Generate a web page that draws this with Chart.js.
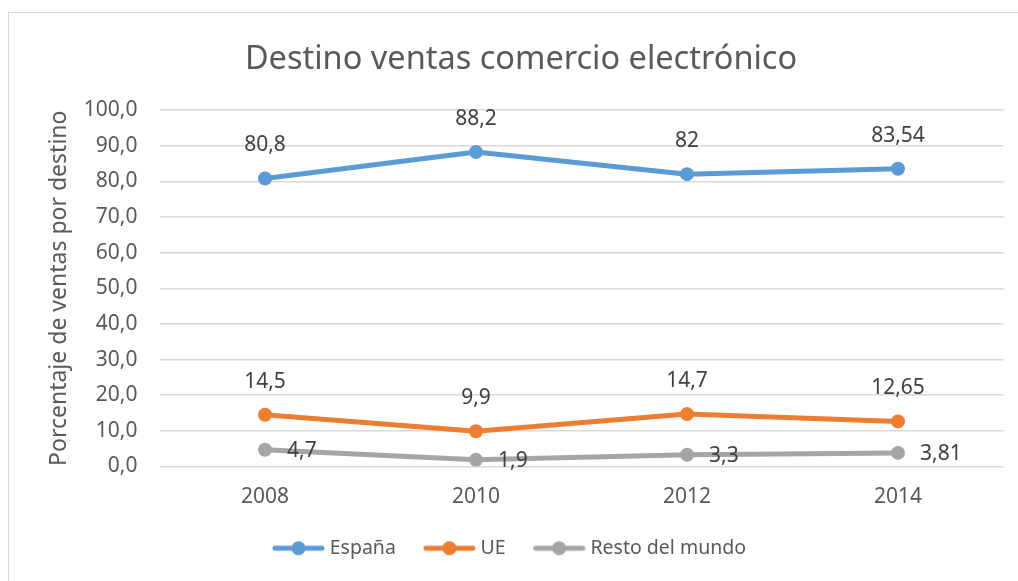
<!DOCTYPE html>
<html>
<head>
<meta charset="utf-8">
<script src="https://cdn.jsdelivr.net/npm/chart.js@4"></script>
<style>
  html, body { margin:0; padding:0; background:#fff; }
  #wrap { width:1018px; height:581px; }
</style>
</head>
<body>
<div id="wrap"><canvas id="chart" width="1018" height="581"></canvas></div>
<script>
const years   = ['2008', '2010', '2012', '2014'];
const espana  = [80.8, 88.2, 82, 83.54];
const ue      = [14.5, 9.9, 14.7, 12.65];
const resto   = [4.7, 1.9, 3.3, 3.81];
const seriesNames = ['España', 'UE', 'Resto del mundo'];
const labelPos    = ['above', 'above', 'right'];
const chartTitle  = 'Destino ventas comercio electrónico';

const colors   = ['#5B9BD5', '#ED7D31', '#A5A5A5'];
const textGray = '#595959';
const FONT     = '"Noto Sans", sans-serif';

// legend marker: line with a dot in the middle
function legendMarker(color) {
  const c = document.createElement('canvas');
  c.width = 53; c.height = 16;
  const g = c.getContext('2d');
  g.strokeStyle = color;
  g.lineWidth = 5;
  g.lineCap = 'round';
  g.beginPath(); g.moveTo(3, 8); g.lineTo(50, 8); g.stroke();
  g.fillStyle = color;
  g.beginPath(); g.arc(26.5, 8, 7, 0, Math.PI * 2); g.fill();
  return c;
}

const fmt = v => String(v).replace('.', ',');

// white background, light frame and the title (sits a bit right of centre, like the original)
const frame = {
  id: 'frame',
  beforeDraw(chart) {
    const ctx = chart.ctx;
    ctx.save();
    ctx.fillStyle = '#fff';
    ctx.fillRect(0, 0, chart.width, chart.height);
    ctx.strokeStyle = '#D9D9D9';
    ctx.lineWidth = 1;
    ctx.strokeRect(8.5, 12.5, 1100, 700);
    ctx.font = '32.5px ' + FONT;
    ctx.fillStyle = textGray;
    ctx.textAlign = 'center';
    ctx.textBaseline = 'middle';
    ctx.fillText(chartTitle, chart.width / 2 + 12, 60);
    ctx.restore();
  }
};

const valueLabels = {
  id: 'valueLabels',
  afterDatasetsDraw(chart) {
    const ctx = chart.ctx;
    ctx.save();
    ctx.font = '21px ' + FONT;
    ctx.fillStyle = '#404040';
    chart.data.datasets.forEach((ds, i) => {
      const meta = chart.getDatasetMeta(i);
      meta.data.forEach((pt, j) => {
        const txt = fmt(ds.data[j]);
        ctx.textBaseline = 'middle';
        if (labelPos[i] === 'right') {
          ctx.textAlign = 'left';
          ctx.fillText(txt, pt.x + 22, pt.y + 1);
        } else {
          ctx.textAlign = 'center';
          ctx.fillText(txt, pt.x, pt.y - 33);
        }
      });
    });
    ctx.restore();
  }
};

const mkSet = (label, data, color) => ({
  label, data,
  borderColor: color,
  backgroundColor: color,
  borderWidth: 5,
  borderCapStyle: 'round',
  borderJoinStyle: 'round',
  pointRadius: 7,
  pointHoverRadius: 7,
  pointBorderWidth: 0,
  pointBackgroundColor: color,
  tension: 0
});

new Chart(document.getElementById('chart').getContext('2d'), {
  type: 'line',
  data: {
    labels: years,
    datasets: [
      mkSet(seriesNames[0], espana, colors[0]),
      mkSet(seriesNames[1], ue, colors[1]),
      mkSet(seriesNames[2], resto, colors[2])
    ]
  },
  options: {
    responsive: false,
    animation: false,
    layout: { padding: { left: 5, right: 0, top: 110, bottom: 13 } },
    plugins: {
      tooltip: { enabled: false },
      title: { display: false },
      legend: {
        position: 'bottom',
        labels: {
          color: textGray,
          font: { family: FONT, size: 19.5 },
          usePointStyle: true,
          pointStyleWidth: 43,
          boxHeight: 16,
          padding: 32,
          generateLabels(chart) {
            return chart.data.datasets.map((ds, i) => ({
              text: ds.label,
              fillStyle: colors[i],
              strokeStyle: colors[i],
              fontColor: textGray,
              lineWidth: 0,
              pointStyle: legendMarker(colors[i]),
              hidden: false,
              datasetIndex: i
            }));
          }
        }
      }
    },
    scales: {
      x: {
        offset: true,
        grid: { display: false, drawTicks: false },
        border: { display: false },
        ticks: { color: textGray, font: { family: FONT, size: 21 }, padding: 18 },
        afterFit(s) { s.height = 40; }
      },
      y: {
        min: 0, max: 100,
        grid: { color: '#D9D9D9', lineWidth: 1.5, drawTicks: false },
        border: { display: false },
        ticks: {
          stepSize: 10,
          color: textGray,
          font: { family: FONT, size: 21 },
          padding: 22,
          callback: v => v.toFixed(1).replace('.', ',')
        },
        title: {
          display: true,
          text: 'Porcentaje de ventas por destino',
          color: textGray,
          font: { family: FONT, size: 23 },
          padding: { top: 41, bottom: 0 }
        },
        afterFit(s) { s.width = 154.5; }
      },
      yRight: {
        position: 'right',
        display: true,
        grid: { display: false, drawTicks: false },
        border: { display: false },
        ticks: { display: false },
        afterFit(s) { s.width = 14.5; }
      }
    }
  },
  plugins: [frame, valueLabels]
});
</script>
</body>
</html>
